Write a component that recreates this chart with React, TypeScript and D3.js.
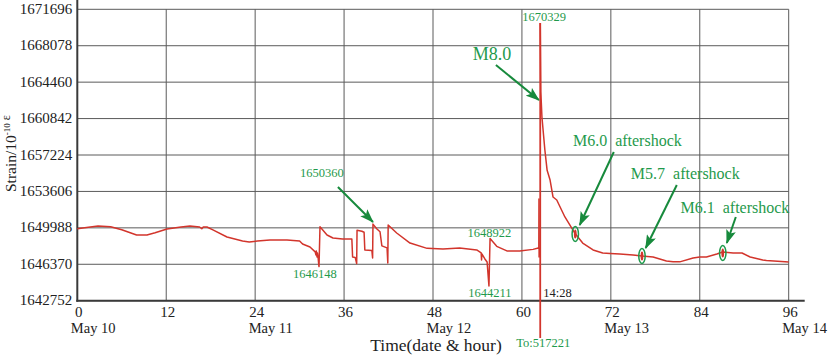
import React from 'react';
import * as d3 from 'd3';

// ---- data (hours since May 10 00:00, strain in 10^-10 ε) ----
const yTicks = [1642752, 1646370, 1649988, 1653606, 1657224, 1660842, 1664460, 1668078, 1671696];
const xTicks = [0, 12, 24, 36, 48, 60, 72, 84, 96];
const dateTicks = [0, 24, 48, 72, 96];
const dateLabels = ['May 10', 'May 11', 'May 12', 'May 13', 'May 14'];

const preHours = [
  0, 1.5, 2.8, 4.5, 6, 8, 9.4, 10.5, 12.1, 14, 15.2, 16.5, 16.8, 17.0, 17.5, 18.3, 20.2, 22.3, 23.2, 24.3,
  26, 28.3, 30.0, 30.4, 31.4, 32.1, 32.2, 32.25, 32.35, 32.4, 32.5, 32.6, 32.62, 32.75, 33.7, 34.5, 35.8,
  37.05, 37.15, 37.5, 37.7, 37.75, 38.4, 38.7, 38.8, 39.75, 39.85, 39.9, 40.4, 40.85, 41.1, 41.8, 41.9,
  41.95, 43.1, 44.9, 47.2, 49.35, 51.6, 53.9, 54.5, 54.55, 54.6, 55, 55.3, 55.55, 55.7, 56.6, 57.97,
  59.7, 61.5, 62.2, 62.28, 62.3, 62.32, 62.38, 62.45,
];
const preStrain = [
  1649900, 1650050, 1650170, 1650100, 1649800, 1649280, 1649280, 1649500, 1649870, 1650070, 1650170, 1650070,
  1649900, 1650070, 1650070, 1649780, 1649080, 1648680, 1648580, 1648680, 1648780, 1648780, 1648680, 1648380,
  1648080, 1647600, 1647300, 1647700, 1647100, 1647500, 1646990, 1646197, 1646148, 1650100, 1649280, 1648980,
  1648880, 1648880, 1647091, 1647050, 1646450, 1649750, 1649650, 1649550, 1647800, 1647750, 1646990, 1650360,
  1649900, 1649600, 1648200, 1648000, 1646500, 1650270, 1649476, 1648480, 1647950, 1647880, 1647980, 1647790,
  1647500, 1646800, 1647400, 1646900, 1646600, 1644211, 1648922, 1648150, 1647700, 1647700, 1647850, 1647980,
  1647980, 1652850, 1647091, 1647950, 1648000,
];

const postHours = [
  62.55, 62.7, 63.1, 63.4, 63.8, 64.2, 64.7, 65.8, 67.2, 68.2, 69.6, 70.9, 71.9, 73.2, 75, 76.2, 77.7, 79.5,
  80.4, 81.3, 83.1, 84, 84.9, 86.3, 87.1, 88.5, 89.7, 90.8, 92.5, 93, 96,
];
const postStrain = [
  1663500, 1661000, 1657700, 1655700, 1654740, 1653050, 1652750, 1651070, 1649400, 1648480, 1647790, 1647490,
  1647440, 1647390, 1647290, 1647190, 1647090, 1646700, 1646610, 1646610, 1647000, 1647100, 1647090, 1647390,
  1647590, 1647490, 1647490, 1647090, 1646790, 1646750, 1646600,
];

// main shock (M8.0, 14:28 May 12)
const shockHour = 62.47;
const shockPeak = 1670329;
const shockDrawFloor = 1639050; // drawn below the axis; real value 517221
const shockLabel = 'To:517221';

// aftershock markers
const aftershockHours = [67.2, 76.2, 87.1];
const aftershockStrain = [1649376, 1647191, 1647489];
const aftershockLabels = ['M6.0  aftershock', 'M5.7  aftershock', 'M6.1  aftershock'];
const aftershockTextPos = [[66.88, 1658118], [74.7, 1654840], [81.4, 1651464]];
const aftershockArrowFrom = [[72.4, 1657522], [80.9, 1654244], [88.86, 1651066]];
const aftershockArrowTo = [[67.8, 1650271], [76.7, 1647985], [87.65, 1648482]];

// value labels
const valueLabels = [
  { text: '1650360', h: 33.0, v: 1655068 },
  { text: '1646148', h: 32.07, v: 1645006 },
  { text: '1648922', h: 55.6, v: 1649078 },
  { text: '1644211', h: 55.68, v: 1643149 },
];

const RED = '#d2352c';
const GREEN = '#1f9a4c';
const ARROW = '#178a3c';
const FONT = 'Liberation Serif, DejaVu Serif, serif';

export default function App() {
  const W = 830;
  const H = 356;
  const x = d3.scaleLinear().domain([0, 96]).range([77.3, 788.7]);
  const y = d3.scaleLinear().domain([1642752, 1671696]).range([300.7, 9.3]);
  const line = d3.line<[number, number]>().x((d) => x(d[0])).y((d) => y(d[1]));
  const pre = preHours.map((h, i) => [h, preStrain[i]] as [number, number]);
  const post = postHours.map((h, i) => [h, postStrain[i]] as [number, number]);
  const x0 = x(0), x1 = x(96), yT = y(1671696), yB = y(1642752);

  const arrow = (fh: number, fv: number, th: number, tv: number, key: string) => (
    <line key={key} x1={x(fh)} y1={y(fv)} x2={x(th)} y2={y(tv)} stroke={ARROW} strokeWidth={2} markerEnd="url(#ah)" />
  );
  const ts = { fontFamily: FONT };

  return (
    <svg width={W} height={H} style={{ position: 'absolute', left: 0, top: 0, background: '#fff', fontFamily: FONT }}>
      <defs>
        <marker id="ah" viewBox="0 0 14 10" refX={13} refY={5} markerWidth={14} markerHeight={10} markerUnits="userSpaceOnUse" orient="auto">
          <path d="M0,0 L14,5 L0,10 L3,5 Z" fill={ARROW} />
        </marker>
      </defs>
      {/* grid */}
      {yTicks.map((t) => (
        <line key={'hy' + t} x1={x0} x2={x1} y1={y(t)} y2={y(t)} stroke="#5a5a5a" strokeWidth={1} />
      ))}
      {xTicks.slice(1).map((t) => (
        <line key={'vx' + t} x1={x(t)} x2={x(t)} y1={yT} y2={yB} stroke="#5a5a5a" strokeWidth={1} />
      ))}
      {/* axes */}
      <line x1={x0} x2={x0} y1={0} y2={yB + 1} stroke="#3a3a3a" strokeWidth={2} />
      <line x1={x0 - 1} x2={x1 + 16} y1={yB} y2={yB} stroke="#3a3a3a" strokeWidth={2} />
      {/* y tick labels */}
      {yTicks.map((t) => (
        <text key={'yl' + t} style={ts} x={x0 - 5} y={y(t) + 4.5} textAnchor="end" fontSize={15} fill="#222">{t}</text>
      ))}
      {/* x tick labels */}
      {xTicks.map((t) => (
        <text key={'xl' + t} style={ts} x={x(t) + 1.5} y={yB + 16.5} textAnchor="middle" fontSize={15} fill="#222">{t}</text>
      ))}
      {dateTicks.map((t, i) => (
        <text key={'dl' + t} style={ts} x={x(t) - 6.5} y={yB + 32} textAnchor="start" fontSize={14.5} fill="#222">{dateLabels[i]}</text>
      ))}
      <text style={ts} x={436} y={351} textAnchor="middle" fontSize={17.5} fill="#222">Time(date &amp; hour)</text>
      {/* y label */}
      <text style={ts} transform={`translate(16,192) rotate(-90)`} fontSize={15.5} fill="#222">
        Strain/10<tspan dy={-6} fontSize={9}>-10</tspan><tspan dy={0} fontSize={12}> ε</tspan>
      </text>
      {/* series */}
      <path d={line(pre) || ''} fill="none" stroke={RED} strokeWidth={1.5} strokeLinejoin="round" />
      <line x1={x(shockHour)} x2={x(shockHour)} y1={y(shockPeak)} y2={y(shockDrawFloor)} stroke={RED} strokeWidth={1.8} />
      <path d={line([[shockHour, shockPeak], ...post]) || ''} fill="none" stroke={RED} strokeWidth={1.5} strokeLinejoin="round" />
      {/* aftershock markers */}
      {aftershockHours.map((h, i) => (
        <g key={'am' + i}>
          <ellipse cx={x(h)} cy={y(aftershockStrain[i])} rx={3.2} ry={7.5} fill="none" stroke={GREEN} strokeWidth={1.5} />
          <ellipse cx={x(h)} cy={y(aftershockStrain[i])} rx={1.4} ry={4.5} fill={RED} />
        </g>
      ))}
      {/* shock labels */}
      <text style={ts} x={x(shockHour) + 4} y={y(shockPeak) - 2} textAnchor="middle" fontSize={12.5} fill={GREEN}>{shockPeak}</text>
      <text style={ts} x={x(shockHour) + 3} y={yB - 4} textAnchor="start" fontSize={12.5} fill="#222">14:28</text>
      <text style={ts} x={x(shockHour) + 3} y={yB + 46} textAnchor="middle" fontSize={12.5} fill={GREEN}>{shockLabel}</text>
      <text style={ts} x={x(53.38)} y={y(1666660)} fontSize={18} fill={GREEN}>M8.0</text>
      {arrow(56.49, 1666163, 62.29, 1662687, 'a8')}
      {/* value labels */}
      {valueLabels.map((l) => (
        <text key={l.text} style={ts} x={x(l.h)} y={y(l.v)} textAnchor="middle" fontSize={12.5} fill={GREEN}>{l.text}</text>
      ))}
      {arrow(35.17, 1654045, 39.9, 1650568, 'a1')}
      {/* aftershock labels */}
      {aftershockLabels.map((t, i) => (
        <text key={t} x={x(aftershockTextPos[i][0])} y={y(aftershockTextPos[i][1])} fontSize={16} fill={GREEN} style={{ whiteSpace: 'pre', fontFamily: FONT }}>{t}</text>
      ))}
      {aftershockLabels.map((t, i) =>
        arrow(aftershockArrowFrom[i][0], aftershockArrowFrom[i][1], aftershockArrowTo[i][0], aftershockArrowTo[i][1], 'aa' + i)
      )}
    </svg>
  );
}
